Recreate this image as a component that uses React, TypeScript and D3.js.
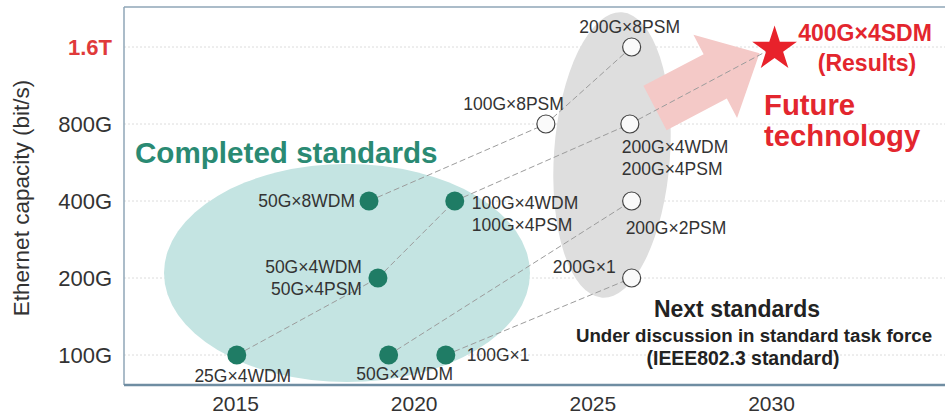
import React, { useEffect, useRef } from 'react'
import * as d3 from 'd3'

// capacity ticks (Gbit/s) and their labels
const capTicks = [100, 200, 400, 800, 1600]
const capLabels = ['100G', '200G', '400G', '800G', '1.6T']
const yearTicks = [2015, 2020, 2025, 2030]

// completed standards
const doneNames = ['25G×4WDM', '50G×2WDM', '100G×1', '50G×4WDM', '50G×8WDM', '100G×4WDM']
const doneYears = [2015.05, 2019.3, 2020.9, 2019.0, 2018.75, 2021.15]
const doneCaps = [100, 100, 100, 200, 400, 400]

// next standards
const nextNames = ['100G×8PSM', '200G×8PSM', '200G×4WDM', '200G×2PSM', '200G×1']
const nextYears = [2023.7, 2026.1, 2026.05, 2026.1, 2026.1]
const nextCaps = [800, 1600, 800, 400, 200]

// result
const resultYear = 2030.1
const resultCap = 1600

// dashed links, by name
const links = [
  ['25G×4WDM', '50G×4WDM'],
  ['50G×4WDM', '100G×4WDM'],
  ['50G×8WDM', '100G×8PSM'],
  ['100G×8PSM', '200G×8PSM'],
  ['100G×4WDM', '200G×4WDM'],
  ['50G×2WDM', '200G×2PSM'],
  ['100G×1', '200G×1'],
  ['200G×4WDM', 'result'],
]

// label layout: [dx, dy, anchor, text lines]
const labelPos: Record<string, [number, number, string, string[]]> = {
  '25G×4WDM': [6, 27, 'middle', ['25G×4WDM']],
  '50G×2WDM': [16, 25, 'middle', ['50G×2WDM']],
  '100G×1': [21, 6, 'start', ['100G×1']],
  '50G×4WDM': [-16, -5, 'end', ['50G×4WDM', '50G×4PSM']],
  '50G×8WDM': [-14, 6, 'end', ['50G×8WDM']],
  '100G×4WDM': [17, 8, 'start', ['100G×4WDM', '100G×4PSM']],
  '100G×8PSM': [18, -14, 'end', ['100G×8PSM']],
  '200G×8PSM': [-2, -14, 'middle', ['200G×8PSM']],
  '200G×4WDM': [-8, 29, 'start', ['200G×4WDM', '200G×4PSM']],
  '200G×2PSM': [-6, 33, 'start', ['200G×2PSM']],
  '200G×1': [-16, -5, 'end', ['200G×1']],
}

const FONT = "'Liberation Sans', Arial, Helvetica, sans-serif"

function App() {
  const svgRef = useRef<SVGSVGElement>(null)

  useEffect(() => {
    const W = 945, H = 416
    const svg = d3.select(svgRef.current).attr('width', W).attr('height', H)
    svg.selectAll('*').remove()
    const frame = { left: 124, top: 7, bottom: 385 }

    const x = d3.scaleLinear().domain([2015, 2030]).range([235, 771])
    const y = d3.scaleLog().base(2).domain([100, 1600]).range([355, 47])

    svg.append('rect').attr('width', W).attr('height', H).attr('fill', '#fff')

    // grid
    svg.append('g').selectAll('line').data(capTicks).join('line')
      .attr('x1', frame.left).attr('x2', W)
      .attr('y1', d => y(d)).attr('y2', d => y(d))
      .attr('stroke', '#dcdcdc').attr('stroke-width', 1).attr('stroke-dasharray', '2,2')

    // ellipses
    svg.append('ellipse')
      .attr('cx', 347).attr('cy', 273).attr('rx', 183).attr('ry', 109)
      .attr('fill', '#c4e4e2')
    svg.append('ellipse')
      .attr('cx', 0).attr('cy', 0).attr('rx', 58).attr('ry', 143)
      .attr('transform', 'translate(612,155) rotate(4)')
      .attr('fill', '#dedede')

    // big pink arrow
    const ang = Math.atan2(-55, 105) * 180 / Math.PI
    const arrow = [[0, -25], [68, -25], [68, -47], [118, 0], [68, 47], [68, 25], [0, 25]]
    svg.append('path')
      .attr('d', d3.line()(arrow as [number, number][]) + 'Z')
      .attr('transform', `translate(655,108) rotate(${ang})`)
      .attr('fill', '#f4c9c7')

    // frame
    svg.append('line').attr('x1', frame.left).attr('x2', W).attr('y1', frame.top).attr('y2', frame.top)
      .attr('stroke', '#8fa6b7').attr('stroke-width', 1.5)
    svg.append('line').attr('x1', frame.left).attr('x2', frame.left).attr('y1', frame.top).attr('y2', frame.bottom)
      .attr('stroke', '#8fa6b7').attr('stroke-width', 1.5)

    // point lookup
    const pts: Record<string, [number, number]> = {}
    doneNames.forEach((n, i) => { pts[n] = [x(doneYears[i]), y(doneCaps[i])] })
    nextNames.forEach((n, i) => { pts[n] = [x(nextYears[i]), y(nextCaps[i])] })
    pts['result'] = [x(resultYear), y(resultCap)]

    // dashed links
    svg.append('g').selectAll('line').data(links).join('line')
      .attr('x1', d => pts[d[0]][0]).attr('y1', d => pts[d[0]][1])
      .attr('x2', d => pts[d[1]][0]).attr('y2', d => pts[d[1]][1])
      .attr('stroke', '#9c9c9c').attr('stroke-width', 1).attr('stroke-dasharray', '6,3')

    svg.append('line').attr('x1', frame.left).attr('x2', W).attr('y1', frame.bottom).attr('y2', frame.bottom)
      .attr('stroke', '#6f8da2').attr('stroke-width', 2.5)

    // completed points
    svg.append('g').selectAll('circle').data(doneNames).join('circle')
      .attr('cx', d => pts[d][0]).attr('cy', d => pts[d][1]).attr('r', 9.5)
      .attr('fill', '#1f7c65')
    // next points
    svg.append('g').selectAll('circle').data(nextNames).join('circle')
      .attr('cx', d => pts[d][0]).attr('cy', d => pts[d][1]).attr('r', 9)
      .attr('fill', '#fafafa').attr('stroke', '#444').attr('stroke-width', 1.2)

    // star
    const star = d3.symbol().type(d3.symbolStar).size(620)
    svg.append('path').attr('d', star())
      .attr('transform', `translate(${pts.result[0]},${pts.result[1] + 2})`)
      .attr('fill', '#e8222b')

    // point labels
    const lab = svg.append('g').attr('font-family', FONT).attr('font-size', 17.5).attr('fill', '#333')
    Object.keys(labelPos).forEach(n => {
      const [dx, dy, anchor, lines] = labelPos[n]
      const t = lab.append('text').attr('text-anchor', anchor)
      lines.forEach((s, i) => {
        t.append('tspan').attr('x', pts[n][0] + dx).attr('y', pts[n][1] + dy + i * 22).text(s)
      })
    })

    // annotations
    const ann = svg.append('g').attr('font-family', FONT).attr('font-weight', 'bold')
    ann.append('text').attr('x', 135).attr('y', 163).attr('font-size', 29.6).attr('fill', '#2a8a73')
      .text('Completed standards')
    ann.append('text').attr('x', 865).attr('y', 41).attr('text-anchor', 'middle')
      .attr('font-size', 23).attr('fill', '#e3262e').text('400G×4SDM')
    ann.append('text').attr('x', 867).attr('y', 71).attr('text-anchor', 'middle')
      .attr('font-size', 23).attr('fill', '#e3262e').text('(Results)')
    ann.append('text').attr('x', 764).attr('y', 115).attr('font-size', 29.3).attr('fill', '#e3262e').text('Future')
    ann.append('text').attr('x', 764).attr('y', 146).attr('font-size', 29.3).attr('fill', '#e3262e').text('technology')
    ann.append('text').attr('x', 737).attr('y', 317).attr('text-anchor', 'middle')
      .attr('font-size', 23).attr('fill', '#222').text('Next standards')
    ann.append('text').attr('x', 754).attr('y', 342).attr('text-anchor', 'middle')
      .attr('font-size', 18.7).attr('fill', '#222').text('Under discussion in standard task force')
    ann.append('text').attr('x', 743).attr('y', 365).attr('text-anchor', 'middle')
      .attr('font-size', 19.4).attr('fill', '#222').text('(IEEE802.3 standard)')

    // y axis
    const yAxis = svg.append('g').attr('transform', 'translate(112,0)')
      .call(d3.axisLeft(y).tickValues(capTicks).tickSize(0).tickPadding(0)
        .tickFormat((d, i) => capLabels[i]))
    yAxis.select('.domain').remove()
    yAxis.selectAll('text').attr('font-family', FONT).attr('font-size', 22).attr('fill', '#333')
      .attr('dy', '0.36em')
      .filter((d: any) => d === 1600).attr('fill', '#e03a3a').attr('font-weight', 'bold')

    svg.append('text').attr('transform', 'translate(29,198) rotate(-90)')
      .attr('text-anchor', 'middle').attr('font-family', FONT).attr('font-size', 22.5)
      .attr('fill', '#333').text('Ethernet capacity (bit/s)')

    // x axis
    const xAxis = svg.append('g').attr('transform', `translate(0,${frame.bottom})`)
      .call(d3.axisBottom(x).tickValues(yearTicks).tickSize(0).tickPadding(0).tickFormat(d3.format('d')))
    xAxis.select('.domain').remove()
    xAxis.selectAll('text').attr('font-family', FONT).attr('font-size', 21).attr('fill', '#333')
      .attr('dy', null).attr('y', 26)
  }, [])

  return (
    <svg ref={svgRef} style={{ position: 'absolute', left: 0, top: 0 }}></svg>
  )
}

export default App
